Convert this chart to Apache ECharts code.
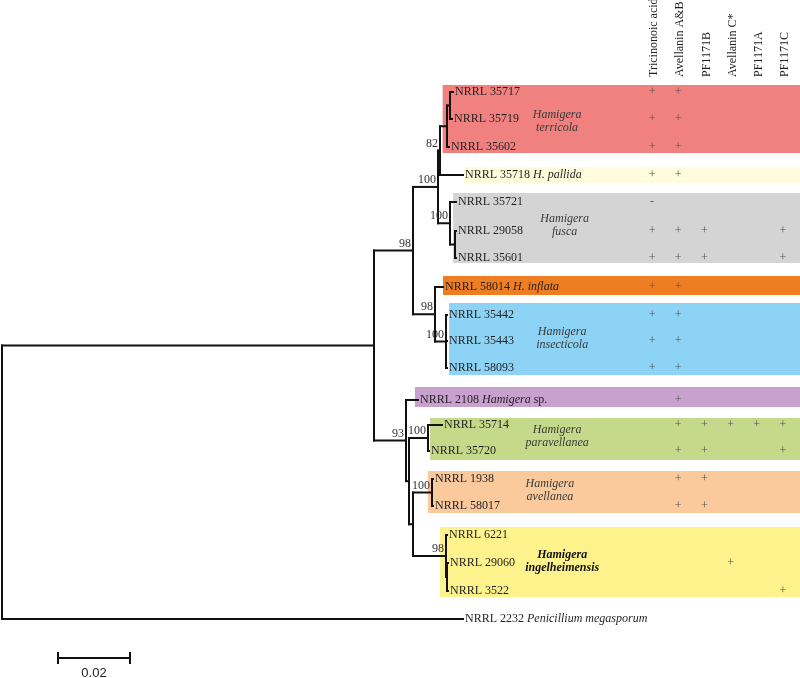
<!DOCTYPE html>
<html><head><meta charset="utf-8">
<script src="https://cdn.jsdelivr.net/npm/echarts@6/dist/echarts.min.js"></script>
<style>html,body{margin:0;padding:0;background:#fff}#c{width:800px;height:678px}</style>
</head><body><div id="c"></div>
<script>
// ---------- DATA ----------
// Tips (leaves): name, italic taxon suffix, plain suffix, distance from root (subst./site), row position
const tipNames = ['NRRL 35717','NRRL 35719','NRRL 35602','NRRL 35718','NRRL 35721','NRRL 29058','NRRL 35601','NRRL 58014','NRRL 35442','NRRL 35443','NRRL 58093','NRRL 2108','NRRL 35714','NRRL 35720','NRRL 1938','NRRL 58017','NRRL 6221','NRRL 29060','NRRL 3522','NRRL 2232'];
const tipItalic = ['','','','H. pallida','','','','H. inflata','','','','Hamigera','','','','','','','','Penicillium megasporum'];
const tipPlain  = ['','','','','','','','','','','','sp.','','','','','','','',''];
const tipDist = [0.12528,0.12500,0.12417,0.12806,0.12611,0.12611,0.12611,0.12250,0.12361,0.12361,0.12361,0.11556,0.12222,0.11861,0.11972,0.11972,0.12361,0.12389,0.12389,0.12806];
const tipRow  = [92,119,147,175,202,231,258,287,315,341,368,400,425,451,479,506,535,563,591,619];

// Internal nodes: id, distance from root, children, bootstrap support
const nodeIds = ['root','A','B','D','F','H','I','G','J','E','K','C','L','M','N','O','P','Q'];
const nodeDist = [0,0.10333,0.11417,0.12111,0.12167,0.12361,0.12444,0.12444,0.12583,0.12028,0.12333,0.11222,0.11306,0.11833,0.11417,0.11944,0.12333,0.12361];
const nodeChildren = [
  ['A','NRRL 2232'],['B','C'],['D','E'],['F','G'],['H','NRRL 35718'],['I','NRRL 35602'],
  ['NRRL 35717','NRRL 35719'],['NRRL 35721','J'],['NRRL 29058','NRRL 35601'],
  ['NRRL 58014','K'],['NRRL 35442','NRRL 35443','NRRL 58093'],['NRRL 2108','L'],['M','N'],
  ['NRRL 35714','NRRL 35720'],['O','P'],['NRRL 1938','NRRL 58017'],['NRRL 6221','Q'],['NRRL 29060','NRRL 3522']
];
const nodeSupport = [null,null,98,100,82,null,null,100,null,98,100,93,null,100,null,100,98,null];

// Highlighted clades
const cladeNames = ['Hamigera terricola','H. pallida','Hamigera fusca','H. inflata','Hamigera insecticola','Hamigera sp.','Hamigera paravellanea','Hamigera avellanea','Hamigera ingelheimensis'];
const cladeFirst = ['NRRL 35717','NRRL 35718','NRRL 35721','NRRL 58014','NRRL 35442','NRRL 2108','NRRL 35714','NRRL 1938','NRRL 6221'];
const cladeLast  = ['NRRL 35602','NRRL 35718','NRRL 35601','NRRL 58014','NRRL 58093','NRRL 2108','NRRL 35720','NRRL 58017','NRRL 3522'];
const cladeLabel1 = ['Hamigera','','Hamigera','','Hamigera','','Hamigera','Hamigera','Hamigera'];
const cladeLabel2 = ['terricola','','fusca','','insecticola','','paravellanea','avellanea','ingelheimensis'];

// Metabolite matrix
const compounds = ['Tricinonoic acid','Avellanin A&B','PF1171B','Avellanin C*','PF1171A','PF1171C'];
const traitRows = ['++....','++....','++....','++....','-.....','+++..+','+++..+','++....','++....','++....','++....','.+....','.+++++','.++..+','.++...','.++...','......','...+..','.....+','......'];

const scaleBarLength = 0.02;
const scaleBarLabel = '0.02';

// ---------- LAYOUT / STYLE ----------
const cladeColors = ['#F0817F','#FFFBDC','#D4D4D4','#EF7E22','#8CD3F5','#C8A1CF','#C5D98B','#FACA9D','#FDF28B'];
const cladeBoxStart = [0.1224,0.1283,0.1253,0.1225,0.1242,0.1147,0.1189,0.1183,0.1217];
const cladePadTop = [7,8,9,11,12,13,7,8,8];
const cladePadBot = [6,8,5,8,7,7,9,7,6];
const cladeLabelX = [0.1542,0,0.1563,0,0.1556,0,0.1542,0.1522,0.1556];
const cladeLabelDy = [2,0,-5,0,-3,0,-2,-2,-2];
const cladeBold = [false,false,false,false,false,false,false,false,true];
const scaleBarStart = 0.01556, scaleBarY = 658;
const headerBaseY = 77;

const SERIF = '"Liberation Serif","Times New Roman",serif';
const XMAX = 798/3600;

// ---------- BUILD ----------
const tipIndex = {}; tipNames.forEach((n,i)=>tipIndex[n]=i);
const nodeIndex = {}; nodeIds.forEach((n,i)=>nodeIndex[n]=i);
function pos(id){
  if (id in tipIndex) return [tipDist[tipIndex[id]], tipRow[tipIndex[id]]];
  const i = nodeIndex[id];
  const ch = nodeChildren[i].map(pos);
  return [nodeDist[i], (ch[0][1]+ch[ch.length-1][1])/2];
}
const edges = [];
const supportData = [];
nodeIds.forEach((id,i)=>{
  const p = pos(id);
  const ch = nodeChildren[i].map(pos);
  edges.push([p[0], ch[0][1], p[0], ch[ch.length-1][1]]);
  ch.forEach(c=>edges.push([p[0], c[1], c[0], c[1]]));
  if (nodeSupport[i] != null) supportData.push([p[0], p[1], nodeSupport[i]]);
});
const boxes = cladeNames.map((n,i)=>[cladeBoxStart[i], tipRow[tipIndex[cladeFirst[i]]]-cladePadTop[i], tipRow[tipIndex[cladeLast[i]]]+cladePadBot[i], i]);
const groupLabels = [];
cladeNames.forEach((n,i)=>{
  if (!cladeLabel1[i]) return;
  const mid = (tipRow[tipIndex[cladeFirst[i]]] + tipRow[tipIndex[cladeLast[i]]])/2 + cladeLabelDy[i];
  groupLabels.push([cladeLabelX[i], mid, i]);
});
const tipData = tipNames.map((n,i)=>[tipDist[i], tipRow[i], i]);
const markData = [];
traitRows.forEach((r,i)=>{
  for (let j=0;j<r.length;j++) if (r[j] !== '.') markData.push([j, tipRow[i], r[j]]);
});
const headerData = compounds.map((c,j)=>[j, headerBaseY, j]);

const chart = echarts.init(document.getElementById('c'), null, {renderer:'canvas'});
chart.setOption({
  animation:false,
  backgroundColor:'#fff',
  grid:[{left:2,top:0,width:798,height:678},{left:639,top:0,width:157,height:678}],
  xAxis:[
    {type:'value',gridIndex:0,min:0,max:XMAX,show:false},
    {type:'category',gridIndex:1,data:compounds,show:false}
  ],
  yAxis:[
    {type:'value',gridIndex:0,min:0,max:678,inverse:true,show:false},
    {type:'value',gridIndex:1,min:0,max:678,inverse:true,show:false}
  ],
  series:[
    {type:'custom',xAxisIndex:0,yAxisIndex:0,z:1,data:boxes,clip:false,
     renderItem:(p,api)=>{
       const a = api.coord([api.value(0), api.value(1)]);
       const b = api.coord([XMAX, api.value(2)]);
       return {type:'rect',shape:{x:a[0],y:a[1],width:b[0]-a[0],height:b[1]-a[1]},style:{fill:cladeColors[api.value(3)]}};
     }},
    {type:'custom',xAxisIndex:0,yAxisIndex:0,z:5,data:edges,clip:false,
     renderItem:(p,api)=>{
       const a = api.coord([api.value(0), api.value(1)]);
       const b = api.coord([api.value(2), api.value(3)]);
       return {type:'line',shape:{x1:a[0],y1:a[1],x2:b[0],y2:b[1]},style:{stroke:'#111',lineWidth:2,lineCap:'square'}};
     }},
    {type:'custom',xAxisIndex:0,yAxisIndex:0,z:6,data:tipData,clip:false,
     renderItem:(p,api)=>{
       const i = api.value(2);
       const c = api.coord([api.value(0), api.value(1)]);
       let t = '{n|'+tipNames[i]+'}';
       if (tipItalic[i]) t += '{n| }{i|'+tipItalic[i]+'}';
       if (tipPlain[i]) t += '{n| '+tipPlain[i]+'}';
       return {type:'text',x:c[0]+2,y:c[1],style:{text:t,align:'left',verticalAlign:'middle',
         rich:{n:{fontFamily:SERIF,fontSize:12,fill:'#231f20'},i:{fontFamily:SERIF,fontSize:12,fontStyle:'italic',fill:'#231f20'}}}};
     }},
    {type:'custom',xAxisIndex:0,yAxisIndex:0,z:6,data:supportData,clip:false,
     renderItem:(p,api)=>{
       const c = api.coord([api.value(0), api.value(1)]);
       return {type:'text',x:c[0]-2,y:c[1]-1,style:{text:String(api.value(2)),align:'right',verticalAlign:'bottom',fontFamily:SERIF,fontSize:12,fill:'#333'}};
     }},
    {type:'custom',xAxisIndex:0,yAxisIndex:0,z:6,data:groupLabels,clip:false,
     renderItem:(p,api)=>{
       const i = api.value(2);
       const c = api.coord([api.value(0), api.value(1)]);
       return {type:'text',x:c[0],y:c[1],style:{text:cladeLabel1[i]+'\n'+cladeLabel2[i],align:'center',verticalAlign:'middle',lineHeight:13,
         fontFamily:SERIF,fontSize:12,fontStyle:'italic',fontWeight:cladeBold[i]?'bold':'normal',fill:cladeBold[i]?'#111':'#3a3a3a'}};
     }},
    {type:'custom',xAxisIndex:0,yAxisIndex:0,z:6,data:[[scaleBarStart, scaleBarY, scaleBarStart+scaleBarLength]],clip:false,
     renderItem:(p,api)=>{
       const a = api.coord([api.value(0), api.value(1)]);
       const b = api.coord([api.value(2), api.value(1)]);
       const st = {stroke:'#111',lineWidth:2};
       return {type:'group',children:[
         {type:'line',shape:{x1:a[0],y1:a[1],x2:b[0],y2:b[1]},style:st},
         {type:'line',shape:{x1:a[0],y1:a[1]-6,x2:a[0],y2:a[1]+6},style:st},
         {type:'line',shape:{x1:b[0],y1:b[1]-6,x2:b[0],y2:b[1]+6},style:st},
         {type:'text',x:(a[0]+b[0])/2,y:a[1]+15,style:{text:scaleBarLabel,align:'center',verticalAlign:'middle',fontFamily:'"Liberation Sans",Arial,sans-serif',fontSize:13,fill:'#222'}}
       ]};
     }},
    {type:'custom',xAxisIndex:1,yAxisIndex:1,z:6,data:headerData,clip:false,
     renderItem:(p,api)=>{
       const c = api.coord([api.value(0), api.value(1)]);
       return {type:'text',x:c[0]+2,y:c[1],rotation:Math.PI/2,style:{text:compounds[api.value(2)],align:'left',verticalAlign:'middle',fontFamily:SERIF,fontSize:12,fill:'#231f20'}};
     }},
    {type:'custom',xAxisIndex:1,yAxisIndex:1,z:6,data:markData,clip:false,
     renderItem:(p,api)=>{
       const c = api.coord([api.value(0), api.value(1)]);
       return {type:'text',x:c[0],y:c[1],style:{text:String(api.value(2)),align:'center',verticalAlign:'middle',fontFamily:SERIF,fontSize:12,fill:'#555'}};
     }}
  ]
});
</script></body></html>
